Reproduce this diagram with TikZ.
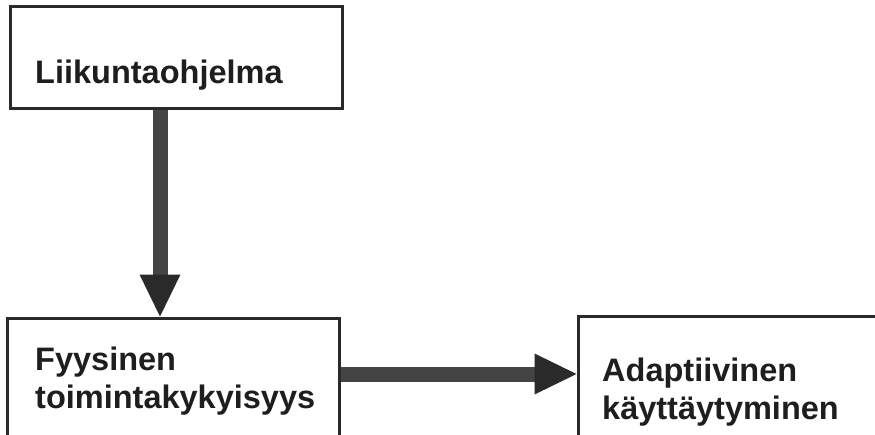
\documentclass[tikz,border=0pt]{standalone}
\usepackage{fontspec}
\setmainfont{Liberation Sans}
\usetikzlibrary{arrows.meta}
\definecolor{edgegray}{HTML}{2A2A2A}
\definecolor{inkgray}{HTML}{1E1E1E}
\definecolor{shaftgray}{HTML}{444444}
\definecolor{headgray}{HTML}{2A2A2A}
\tikzset{
  box/.style={draw=edgegray, line width=3pt, fill=none, inner sep=0pt},
  lbl/.style={inner sep=0pt, text=inkgray, align=left,
    font=\fontsize{32.5}{38}\selectfont\bfseries},
  flow/.style={draw=shaftgray, line width=15pt,
    -{Triangle[length=42pt, width=41pt, line width=0pt, color=headgray]}}
}
\begin{document}
\begin{tikzpicture}[x=1pt, y=-1pt]
  \clip (0,0) rectangle (875,434);
  \fill[white] (0,0) rectangle (875,434);

  % boxes
  \node[box, minimum width=332pt, minimum height=102pt] (prog) at (176,57) {};
  \node[box, minimum width=332pt, minimum height=140pt] (fys) at (173,388) {};
  \node[box, minimum width=320pt, minimum height=140pt] (adapt) at (738,386) {};

  % labels (anchored on the baseline of the last line)
  \node[lbl, anchor=base west] (progtext) at (35,83) {Liikuntaohjelma};
  \node[lbl, anchor=base west] (fystext) at (35,408) {Fyysinen\\toimintakykyisyys};
  \node[lbl, anchor=base west] (adapttext) at (602,419) {Adaptiivinen\\käyttäytyminen};

  % connectors
  \draw[flow] ([xshift=-16pt]prog.south) -- ([xshift=-13pt]fys.north);
  \path (fys.east) ++(0,-14) coordinate (hstart);
  \draw[flow] (hstart) -- (hstart -| adapt.west);
\end{tikzpicture}
\end{document}
